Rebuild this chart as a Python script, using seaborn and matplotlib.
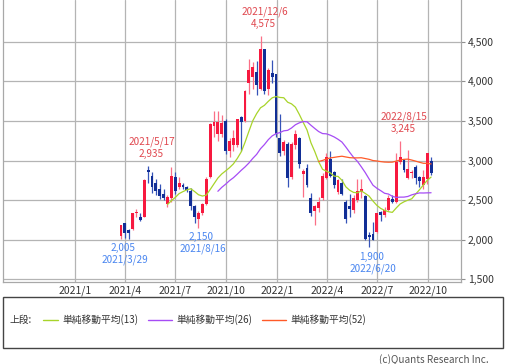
import numpy as np
import pandas as pd
import matplotlib
matplotlib.use('Agg')
import matplotlib.pyplot as plt
import matplotlib.dates as mdates
from matplotlib.lines import Line2D
from matplotlib.patches import Rectangle
import seaborn as sns

sns.set_theme(style='white')
plt.rcParams['font.family'] = ['Noto Sans CJK JP', 'DejaVu Sans']

# 週足データ (2021/3/29 ~ 2022/10/10)
weeks = pd.date_range('2021-03-29', periods=81, freq='W-MON')
opens = [2050, 2205, 2115, 2140, 2335, 2285, 2285, 2885, 2810, 2720,
         2645, 2575, 2450, 2530, 2790, 2660, 2690, 2665, 2620, 2430,
         2260, 2330, 2450, 2790, 3440, 3340, 3340, 3505, 3125, 3190,
         3190, 3545, 3500, 3975, 4055, 4115, 3910, 4415, 3910, 4110,
         4090, 3290, 3125, 3215, 2790, 3190, 3290, 2830, 2900, 2530,
         2360, 2405, 2520, 2785, 3025, 2850, 2600, 2720, 2470, 2430,
         2370, 2495, 2600, 2555, 2060, 2075, 2090, 2345, 2305, 2370,
         2510, 2475, 2980, 3010, 2775, 2840, 2920, 2790, 2690, 2770,
         3000]
highs = [2190, 2215, 2135, 2340, 2390, 2340, 2760, 2935, 2850, 2760,
         2700, 2640, 2560, 2920, 2850, 2790, 2710, 2680, 2650, 2440,
         2360, 2460, 2790, 3470, 3630, 3630, 3580, 3520, 3290, 3380,
         3530, 3560, 3890, 4285, 4250, 4260, 4575, 4415, 4170, 4270,
         4100, 3590, 3260, 3240, 3240, 3380, 3300, 2890, 2960, 2590,
         2440, 2540, 2840, 3100, 3125, 2870, 2770, 2760, 2500, 2580,
         2560, 2770, 2770, 2560, 2100, 2220, 2340, 2360, 2410, 2560,
         2560, 3100, 3245, 3020, 3130, 2880, 2940, 2800, 2880, 3100,
         3040]
lows = [2005, 2020, 2010, 2120, 2290, 2230, 2280, 2720, 2590, 2560,
        2510, 2500, 2410, 2480, 2580, 2640, 2640, 2600, 2380, 2210,
        2150, 2310, 2440, 2780, 3300, 3250, 3300, 3080, 3040, 3120,
        3170, 3125, 3490, 3845, 3900, 3830, 3890, 3840, 3830, 3980,
        3300, 3060, 3070, 2660, 2770, 3150, 2900, 2540, 2660, 2300,
        2180, 2350, 2500, 2770, 2790, 2650, 2580, 2560, 2215, 2280,
        2340, 2480, 2520, 2000, 1900, 1990, 2080, 2240, 2280, 2360,
        2460, 2460, 2950, 2860, 2770, 2780, 2700, 2670, 2640, 2700,
        2820]
closes = [2180, 2080, 2085, 2330, 2340, 2245, 2750, 2855, 2660, 2620,
          2555, 2530, 2535, 2800, 2620, 2720, 2660, 2630, 2430, 2285,
          2330, 2445, 2770, 3460, 3485, 3485, 3470, 3125, 3250, 3280,
          3520, 3485, 3885, 4140, 4180, 3950, 4415, 3885, 4140, 4050,
          3340, 3100, 3230, 2785, 3215, 3340, 2960, 2870, 2685, 2330,
          2420, 2470, 2810, 3040, 2810, 2690, 2750, 2580, 2265, 2390,
          2520, 2620, 2640, 2010, 2030, 1995, 2330, 2305, 2370, 2530,
          2470, 2980, 3050, 2880, 2895, 2860, 2780, 2740, 2790, 3090,
          2840]

ma_windows = [13, 26, 52]
ma_colors = ['#a8d42a', '#a64cf5', '#ff5a28']
ma_labels = ['単純移動平均(13)', '単純移動平均(26)', '単純移動平均(52)']

# 高値・安値の注記
high_notes = [('2021-05-17', '2021/5/17', '2,935'),
              ('2021-12-06', '2021/12/6', '4,575'),
              ('2022-08-15', '2022/8/15', '3,245')]
low_notes = [('2021-03-29', '2021/3/29', '2,005'),
             ('2021-08-16', '2021/8/16', '2,150'),
             ('2022-06-20', '2022/6/20', '1,900')]

xtick_dates = ['2021-01-01', '2021-04-01', '2021-07-01', '2021-10-01',
               '2022-01-01', '2022-04-01', '2022-07-01', '2022-10-01']
xtick_labels = ['2021/1', '2021/4', '2021/7', '2021/10',
                '2022/1', '2022/4', '2022/7', '2022/10']
yticks = [1500, 2000, 2500, 3000, 3500, 4000, 4500]

df = pd.DataFrame({'date': weeks, 'open': opens, 'high': highs,
                   'low': lows, 'close': closes})
for w in ma_windows:
    df[f'ma{w}'] = df['close'].rolling(w).mean()

UP = '#f7193f'
DOWN = '#112e96'

W, H = 505, 364
fig = plt.figure(figsize=(W / 100, H / 100), dpi=100)
ax = fig.add_axes([3 / W, 1 - 281.5 / H, 458 / W, 281.5 / H])

x = mdates.date2num(df['date']) - 4
up = df['close'] >= df['open']
col = np.where(up, UP, DOWN)
wick = np.where(up, '#fb6f86', '#3553b8')

ax.vlines(x, df['low'], df['high'], colors=wick, linewidth=0.9, zorder=3)
body = (df['close'] - df['open']).abs().clip(lower=8)
ax.bar(x, body, bottom=df[['open', 'close']].min(axis=1), width=5.2,
       color=col, linewidth=0, zorder=4)

for w, c in zip(ma_windows, ma_colors):
    sns.lineplot(x=x, y=df[f'ma{w}'].values, ax=ax, color=c,
                 linewidth=0.9, zorder=5)

# 注記
for d, dlab, vlab in high_notes:
    row = df[df['date'] == d].iloc[0]
    xd = mdates.date2num(pd.Timestamp(d))
    ax.annotate(vlab, (xd, row['high']), xytext=(1, 12), textcoords='offset pixels',
                ha='center', va='center', fontsize=7.2, color='#e0484f', zorder=6)
    ax.annotate(dlab, (xd, row['high']), xytext=(2, 24), textcoords='offset pixels',
                ha='center', va='center', fontsize=7.2, color='#e0484f', zorder=6)
for d, dlab, vlab in low_notes:
    row = df[df['date'] == d].iloc[0]
    xd = mdates.date2num(pd.Timestamp(d))
    ax.annotate(vlab, (xd, row['low']), xytext=(0, -9), textcoords='offset pixels',
                ha='center', va='center', fontsize=7.2, color='#4a86f0', zorder=6)
    ax.annotate(dlab, (xd, row['low']), xytext=(2, -21), textcoords='offset pixels',
                ha='center', va='center', fontsize=7.2, color='#4a86f0', zorder=6)

ax.set_xlim(mdates.date2num(pd.Timestamp('2020-08-24')),
            mdates.date2num(pd.Timestamp('2022-11-29')))
ax.set_ylim(1470, 5030)
ax.set_xticks(mdates.date2num(pd.to_datetime(xtick_dates)))
ax.set_xticklabels(xtick_labels)
ax.set_yticks(yticks)
ax.set_yticklabels([f'{v:,}' for v in yticks])
ax.yaxis.tick_right()
ax.tick_params(axis='y', length=3, width=0.8, color='#909090', pad=2,
               labelsize=7.5, labelcolor='#333333')
ax.tick_params(axis='x', length=0, pad=3, labelsize=7.5, labelcolor='#333333')
ax.grid(True, color='#b4b4b4', linewidth=0.9, zorder=0)
ax.set_axisbelow(True)
for s in ['left', 'right', 'bottom', 'top']:
    ax.spines[s].set_color('#a8a8a8')
    ax.spines[s].set_linewidth(0.9)
ax.spines['top'].set_visible(False)
ax.set_xlabel('')
ax.set_ylabel('')

# 凡例ボックス
fig.patches.append(Rectangle((3 / W, 1 - 348 / H), 500 / W, 51 / H,
                             transform=fig.transFigure, fill=False,
                             edgecolor='#444444', linewidth=1.0))
ly = 1 - 320 / H
fig.text(9 / W, ly, '上段:', fontsize=7, color='#333333', va='center')
line_x = [(43, 58, 62), (148, 172, 176), (262, 286, 290)]
for (x0, x1, tx), c, lab in zip(line_x, ma_colors, ma_labels):
    fig.lines.append(Line2D([x0 / W, x1 / W], [ly, ly], transform=fig.transFigure,
                            color=c, linewidth=1.0))
    fig.text(tx / W, ly, lab, fontsize=7, color='#333333', va='center')

fig.text(489 / W, 1 - 354 / H, '(c)Quants Research Inc.', fontsize=7.2,
         color='#555555', ha='right', va='top')

fig.savefig('out.png', dpi=100)
